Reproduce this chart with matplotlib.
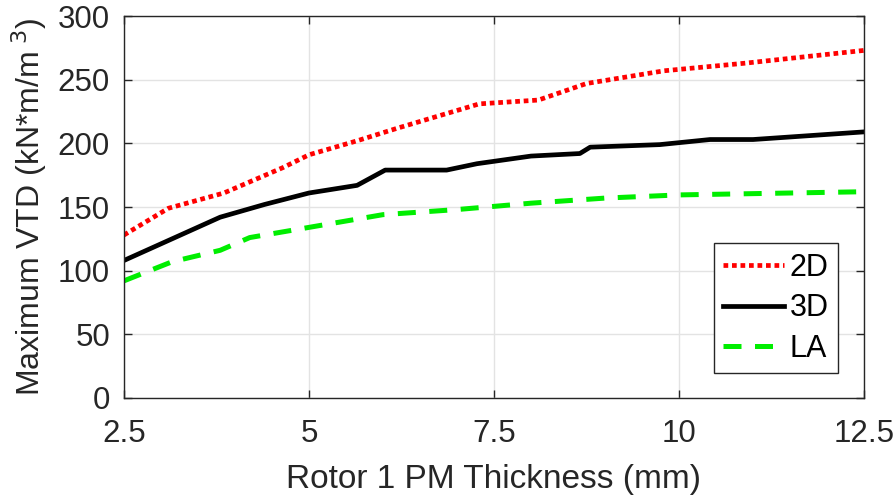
import numpy as np
import matplotlib.pyplot as plt

# Maximum VTD versus rotor 1 PM thickness for the three models
x_2d = [2.5, 3.1, 3.85, 4.65, 5.0, 5.65, 6.2, 7.3, 8.1, 8.75, 9.8, 10.9, 12.5]
y_2d = [128, 149, 161, 181, 191, 202, 212, 231, 234, 247, 257, 263, 273]

x_3d = [2.5, 3.8, 4.4, 5.0, 5.65, 6.03, 6.86, 7.27, 8.0, 8.66, 8.8, 9.74, 10.42, 11.0, 12.5]
y_3d = [108, 142, 152, 161, 167, 179, 179, 184, 190, 192, 197, 199, 203, 203, 209]

x_la = [2.5, 3.15, 3.8, 4.2, 5.0, 6.0, 7.0, 8.0, 9.0, 10.0, 11.0, 12.5]
y_la = [92, 107, 116, 126, 134, 144, 148, 153, 157, 159.5, 160.5, 162]

x_ticks = [2.5, 5, 7.5, 10, 12.5]
x_ticklabels = ['2.5', '5', '7.5', '10', '12.5']
y_ticks = [0, 50, 100, 150, 200, 250, 300]

axcol = '#262626'
plt.rcParams['font.family'] = ['Liberation Sans', 'DejaVu Sans']

fig = plt.figure(figsize=(8.95, 4.96), dpi=100)
ax = fig.add_axes([0.1385, 0.1976, 0.8269, 0.7701])

ax.plot(x_2d, y_2d, color='#ff0000', lw=3.4, linestyle=(0, (1, 0.8)), label='2D')
ax.plot(x_3d, y_3d, color='black', lw=3.4, label='3D')
ax.plot(x_la, y_la, color='#00ee00', lw=3.6, linestyle=(0, (3.6, 2.7)), label='LA')

ax.set_xlim(2.5, 12.5)
ax.set_ylim(0, 300)
ax.set_xticks(x_ticks)
ax.set_xticklabels(x_ticklabels)
ax.set_yticks(y_ticks)

ax.grid(True, color='#e3e3e3', lw=1)
ax.set_axisbelow(True)
for s in ax.spines.values():
    s.set_color(axcol)
    s.set_linewidth(1)
ax.tick_params(direction='in', length=6, width=1, colors=axcol,
               labelsize=22.5, top=True, right=True)
ax.tick_params(axis='x', pad=15)
ax.tick_params(axis='y', pad=10)

ax.set_xlabel('Rotor 1 PM Thickness (mm)', fontsize=24, color=axcol, labelpad=11)
ax.set_ylabel(r'Maximum VTD (kN*m/m$^{\ 3}$)', fontsize=23, color=axcol, labelpad=6)

leg = ax.legend(loc='lower right', bbox_to_anchor=(0.965, 0.065), borderaxespad=0,
                fontsize=22, fancybox=False, framealpha=1, edgecolor=axcol,
                handlelength=2.0, handletextpad=0.2, labelspacing=0.35,
                borderpad=0.3)
leg.get_frame().set_linewidth(1)

fig.savefig('out.png', dpi=100)
